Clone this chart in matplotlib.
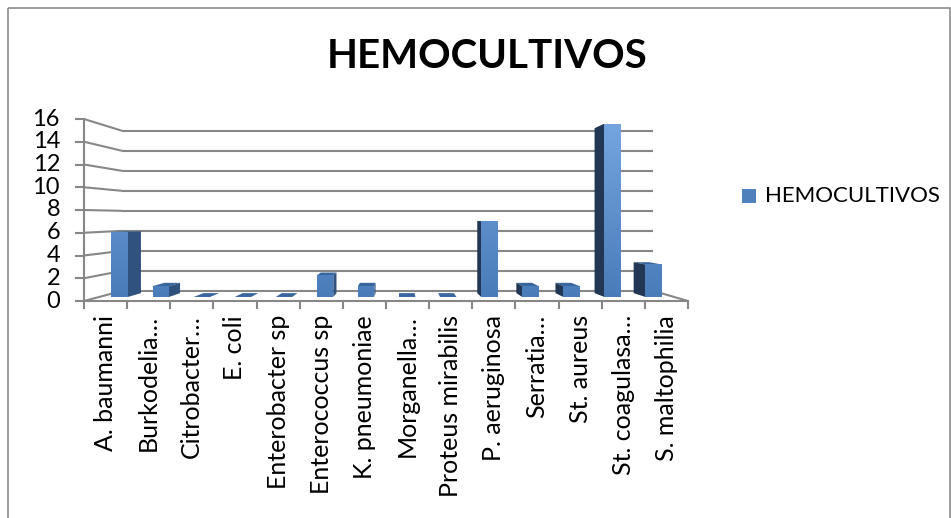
import numpy as np
import matplotlib
matplotlib.use('Agg')
import matplotlib.pyplot as plt
from matplotlib.patches import Polygon, Rectangle
from matplotlib.colors import LinearSegmentedColormap

# datos del grafico
titulo = 'HEMOCULTIVOS'
serie = 'HEMOCULTIVOS'
categorias = ['A. baumanni', 'Burkodelia…', 'Citrobacter…', 'E. coli',
              'Enterobacter sp', 'Enterococcus sp', 'K. pneumoniae',
              'Morganella…', 'Proteus mirabilis', 'P. aeruginosa',
              'Serratia…', 'St. aureus', 'St. coagulasa…', 'S. maltophilia']
valores = [6, 1, 0, 0, 0, 2, 1, 0, 0, 7, 1, 1, 16, 3]
y_ticks = [0, 2, 4, 6, 8, 10, 12, 14, 16]
y_max = 16

FONT = ['Lato', 'DejaVu Sans']
GRID = '#878787'
FRONT_LO = '#4A7CBA'
FRONT_HI = '#74A5E0'
SIDE_R = '#30527F'
SIDE_L = '#213754'
TOP = '#3A669E'

# perspectiva en pixeles de la figura
W, H = 951, 518
X0, Y0 = 84, 301           # esquina frontal izquierda del piso
DX = 604 / len(categorias)
DY = 182 / y_max
VX, VY = 400, 217          # punto de fuga
SHRINK = 0.12              # reduccion de la pared del fondo
Z_FRONT, Z_BACK = 0.40, 0.78
BAR_L, BAR_R = 0.3, 0.7


def proj(x, v, z):
    k = 1 - SHRINK * z
    px = X0 + DX * x
    py = Y0 - DY * v
    return VX + k * (px - VX), VY + k * (py - VY)


def line(ax, a, b, **kw):
    ax.plot([a[0], b[0]], [a[1], b[1]], color=GRID, lw=1.5,
            solid_capstyle='butt', **kw)


fig = plt.figure(figsize=(W / 100, H / 100), dpi=100)
ax = fig.add_axes([0, 0, 1, 1])
ax.set_axis_off()

n = len(categorias)

# paredes y cuadricula
for t in y_ticks:
    line(ax, proj(0, t, 1), proj(n, t, 1), zorder=1)
    line(ax, proj(0, t, 0), proj(0, t, 1), zorder=1)
    ax.plot([X0 - 8, X0], [proj(0, t, 0)[1]] * 2, color=GRID, lw=1.5)
    ax.text(X0 - 24, proj(0, t, 0)[1], str(t), ha='right', va='center',
            fontsize=17, family=FONT)
line(ax, proj(0, 0, 0), proj(0, y_max, 0), zorder=2)
line(ax, proj(0, 0, 0), proj(n, 0, 0), zorder=2)
line(ax, proj(n, 0, 0), proj(n, 0, 1), zorder=1)

for i in range(n + 1):
    x, y = proj(i, 0, 0)
    ax.plot([x, x], [y, y + 7], color=GRID, lw=1.5)

for i, cat in enumerate(categorias):
    x, y = proj(i + 0.5, 0, 0)
    ax.text(x, y + 14, cat, rotation=90, ha='center', va='top',
            fontsize=18, family=FONT)

# degradado de la cara frontal
cmap = LinearSegmentedColormap.from_list('frente', [FRONT_LO, FRONT_HI])
grad = np.linspace(0, 1, 256).reshape(-1, 1)
g_bot = proj(0, 0, Z_FRONT)[1]
g_top = proj(0, y_max, Z_FRONT)[1]

for i, v in enumerate(valores):
    xl, xr = i + BAR_L, i + BAR_R
    if proj(0, v, 0)[1] > VY:
        cara = [proj(xl, v, Z_FRONT), proj(xr, v, Z_FRONT),
                proj(xr, v, Z_BACK), proj(xl, v, Z_BACK)]
        ax.add_patch(Polygon(cara, closed=True, fc=TOP, ec='none', zorder=3))
    if v <= 0:
        continue
    xs, col = None, None
    if X0 + DX * xr < VX:
        xs, col = xr, SIDE_R
    elif X0 + DX * xl > VX:
        xs, col = xl, SIDE_L
    if xs is not None:
        lado = [proj(xs, 0, Z_FRONT), proj(xs, v, Z_FRONT),
                proj(xs, v, Z_BACK), proj(xs, 0, Z_BACK)]
        ax.add_patch(Polygon(lado, closed=True, fc=col, ec='none', zorder=3))
    frente = [proj(xl, 0, Z_FRONT), proj(xr, 0, Z_FRONT),
              proj(xr, v, Z_FRONT), proj(xl, v, Z_FRONT)]
    p = Polygon(frente, closed=True, fc='none', ec='none', zorder=4)
    ax.add_patch(p)
    fx0, fx1 = frente[0][0], frente[1][0]
    im = ax.imshow(grad, cmap=cmap, origin='lower', aspect='auto',
                   extent=(fx0, fx1, g_bot, g_top), zorder=4)
    im.set_clip_path(p)

# titulo y leyenda
ax.text(487, 57, titulo, ha='center', va='center', fontsize=29,
        fontweight='bold', family=FONT)
ax.add_patch(Rectangle((742, 189), 14, 14, fc='#4F81BD', ec='none'))
ax.text(765, 196, serie, ha='left', va='center', fontsize=16, family=FONT)

# borde del area del grafico
ax.add_patch(Rectangle((8, 8), 941.5, 540, fc='none', ec='#8C8C8C', lw=1.2))

ax.set_xlim(0, W)
ax.set_ylim(H, 0)
fig.savefig('out.png', dpi=100)
